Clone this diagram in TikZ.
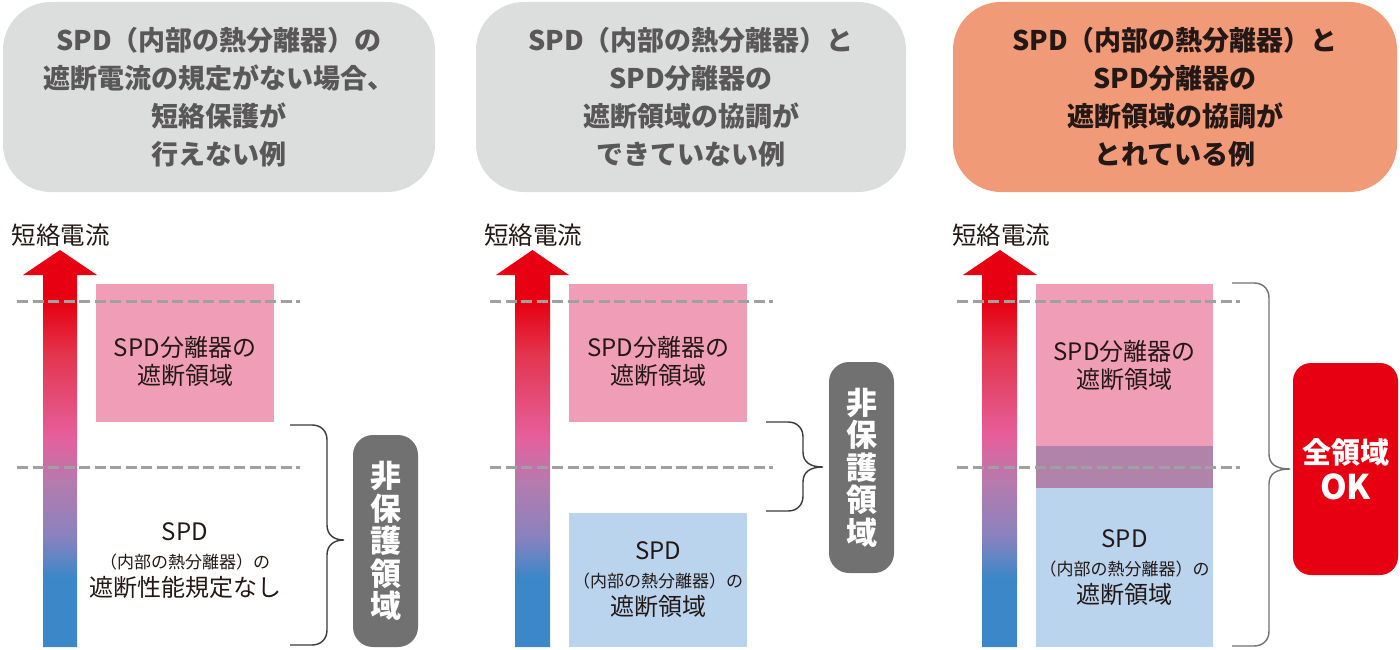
\documentclass[tikz,border=0pt]{standalone}
\usepackage{fontspec}
\setmainfont{Noto Sans CJK JP}
\usepackage{tikz}
\usetikzlibrary{positioning}
\definecolor{spdink}{HTML}{231815}
\definecolor{spdgray}{HTML}{DCDDDD}
\definecolor{spdgraytext}{HTML}{595757}
\definecolor{spdsalmon}{HTML}{F19A78}
\definecolor{spdzonepink}{HTML}{F09EB8}
\definecolor{spdzoneblue}{HTML}{BAD4EE}
\definecolor{spdoverlap}{HTML}{B083AB}
\definecolor{spdbadge}{HTML}{727171}
\definecolor{spdred}{HTML}{E60012}
\definecolor{spdrose}{HTML}{E4354E}
\definecolor{spdpink}{HTML}{E5609D}
\definecolor{spdmauve}{HTML}{B47BAE}
\definecolor{spdviolet}{HTML}{8A82BE}
\definecolor{spdblue}{HTML}{3C87C8}
\definecolor{spddash}{HTML}{A0A0A0}
\definecolor{spdbrace}{HTML}{3E3A39}
\pgfdeclareverticalshading{spdcurrent}{100bp}{color(0bp)=(spdblue); color(33.7bp)=(spdblue); color(39.1bp)=(spdviolet); color(45.6bp)=(spdmauve); color(51.3bp)=(spdpink); color(61.8bp)=(spdrose); color(68.4bp)=(spdred); color(100bp)=(spdred)}

\begin{document}
\begin{tikzpicture}[x=1pt,y=-1pt,font=\fontsize{24}{28}\selectfont,
    title/.style={rounded corners=48pt,minimum height=190pt,inner sep=0pt,align=center,font=\bfseries\fontsize{27}{38}\selectfont},
    axislabel/.style={text=spdink,inner sep=0pt,font=\fontsize{24.5}{28}\selectfont},
    zone/.style={rectangle,inner sep=0pt,align=center,text=spdink,minimum width=178pt},
    zonetext/.style={align=center,text=spdink,inner sep=0pt,yshift=-8pt},
    limit/.style={spddash,line width=3pt,dash pattern=on 11pt off 4.5pt},
    curly/.style={spdbrace,line width=1.4pt},
    badge/.style={rounded corners=20pt,inner sep=0pt,align=center,text=white,font=\bfseries\fontsize{31}{32.5}\selectfont}]
  \useasboundingbox (0,0) rectangle (1400,650);

  % headers
  \node[title,fill=spdgray,text=spdgraytext,minimum width=432pt] (head1) at (219,97) {SPD（内部の熱分離器）の\\遮断電流の規定がない場合、\\短絡保護が\\行えない例};
  \node[title,fill=spdgray,text=spdgraytext,minimum width=430pt] (head2) at (691,97) {SPD（内部の熱分離器）と\\SPD分離器の\\遮断領域の協調が\\できていない例};
  \node[title,fill=spdsalmon,text=spdink,minimum width=444pt] (head3) at (1175,97) {SPD（内部の熱分離器）と\\SPD分離器の\\遮断領域の協調が\\とれている例};

  % current axes
  \node[axislabel] (axis1) at (61,235) {短絡電流};
  \node[axislabel] (axis2) at (533,235) {短絡電流};
  \node[axislabel] (axis3) at (1001,235) {短絡電流};
  \shade[shading=spdcurrent] (43,647) -- (43,275) -- (23,275) -- (60,250) -- (97,275) -- (77,275) -- (77,647) -- cycle;
  \shade[shading=spdcurrent] (515,647) -- (515,275) -- (496,275) -- (532.5,250) -- (569,275) -- (550,275) -- (550,647) -- cycle;
  \shade[shading=spdcurrent] (982,647) -- (982,275) -- (963,275) -- (1000,250) -- (1037,275) -- (1017,275) -- (1017,647) -- cycle;

  % panel 1
  \node[zone,fill=spdzonepink,minimum height=138pt,label={[zonetext]center:SPD分離器の\\遮断領域}] (sep1) at (185,353) {};
  \node[zone] (spd1) at (185,561) {SPD\\{\fontsize{17}{28}\selectfont（内部の熱分離器）の}\\遮断性能規定なし};

  % panel 2
  \node[zone,fill=spdzonepink,minimum height=138pt,label={[zonetext]center:SPD分離器の\\遮断領域}] (sep2) at (658,353) {};
  \node[zone,fill=spdzoneblue,minimum height=134pt] (spd2) at (658,580) {SPD\\{\fontsize{17}{28}\selectfont（内部の熱分離器）の}\\遮断領域};

  % panel 3
  \node[zone,fill=spdzonepink,minimum width=177pt,minimum height=162pt] (sep3) at (1124.5,365) {SPD分離器の\\遮断領域};
  \node[zone,fill=spdoverlap,minimum width=177pt,minimum height=42pt] (both3) at (1124.5,467) {};
  \node[zone,fill=spdzoneblue,minimum width=177pt,minimum height=159pt] (spd3) at (1124.5,567.5) {SPD\\{\fontsize{17}{28}\selectfont（内部の熱分離器）の}\\遮断領域};

  % limits
  \draw[limit] (17,301) -- (300,301);
  \draw[limit] (17,467) -- (300,467);
  \draw[limit] (490,301) -- (773,301);
  \draw[limit] (490,467) -- (773,467);
  \draw[limit] (957,301) -- (1240,301);
  \draw[limit] (957,467) -- (1240,467);

  % braces
  \draw[curly] (290,425) -- (312,425) .. controls (321,425) and (327,431) .. (327,440) -- (327,525) .. controls (327,535) and (334,540) .. (344,540) .. controls (334,540) and (327,545) .. (327,555) -- (327,630) .. controls (327,639) and (321,645) .. (312,645) -- (290,645);
  \draw[curly] (766,422) -- (788,422) .. controls (797,422) and (803,428) .. (803,437) -- (803,452) .. controls (803,462) and (810,467) .. (823,467) .. controls (810,467) and (803,472) .. (803,482) -- (803,496) .. controls (803,505) and (797,511) .. (788,511) -- (766,511);
  \draw[curly,spdbadge] (1232,283) -- (1254,283) .. controls (1263,283) and (1269,289) .. (1269,298) -- (1269,454) .. controls (1269,464) and (1276,469) .. (1290,469) .. controls (1276,469) and (1269,474) .. (1269,484) -- (1269,631) .. controls (1269,640) and (1263,646) .. (1254,646) -- (1232,646);

  % verdicts
  \node[badge,fill=spdbadge,minimum width=65pt,minimum height=212pt] (gap1) at (385.5,541) {非\\保\\護\\領\\域};
  \node[badge,fill=spdbadge,minimum width=65pt,minimum height=211pt] (gap2) at (861.5,467.5) {非\\保\\護\\領\\域};
  \node[badge,fill=spdred,rounded corners=18pt,minimum width=105pt,minimum height=212pt,font=\bfseries\fontsize{29}{36}\selectfont] (ok3) at (1345.5,469) {全領域\\{\fontsize{34}{36}\selectfont OK}};
\end{tikzpicture}
\end{document}
